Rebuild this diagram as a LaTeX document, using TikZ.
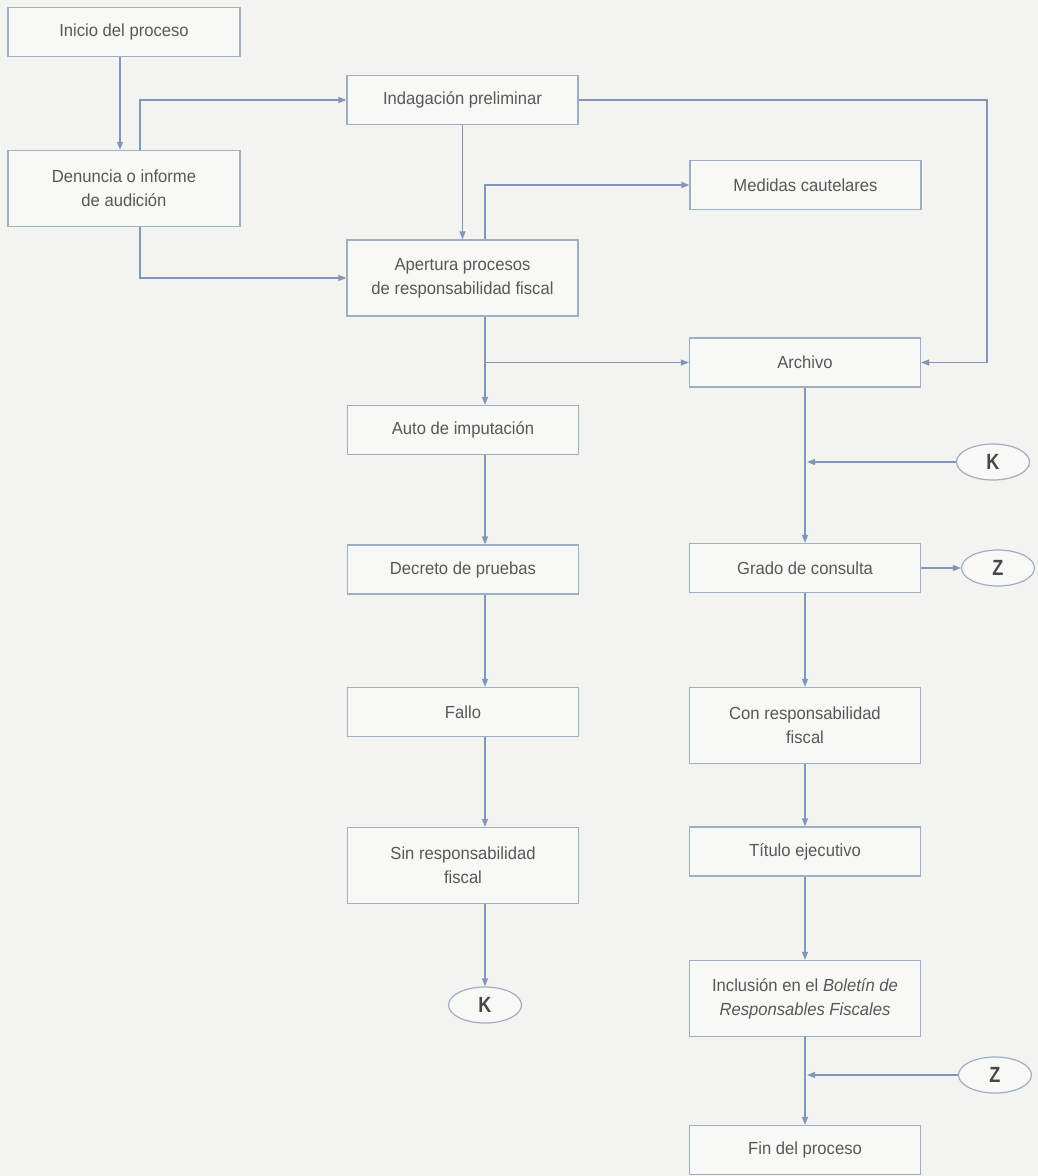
\documentclass[tikz,border=0pt]{standalone}
\usepackage{fontspec}
\setmainfont[FakeStretch=0.95]{Liberation Sans}
\newfontfamily\kzfont[FakeStretch=0.82]{Liberation Sans}
\usetikzlibrary{arrows.meta,shapes.geometric}
\definecolor{bg}{RGB}{243,244,239}
\definecolor{boxfill}{RGB}{248,249,246}
\definecolor{edge}{RGB}{160,174,196}
\definecolor{arr}{RGB}{128,150,187}
\definecolor{txt}{RGB}{88,88,88}
\definecolor{kz}{RGB}{70,70,70}
\tikzset{
  stepbox/.style={draw=edge, fill=boxfill, line width=1.2pt, minimum width=231pt,
    inner sep=0pt, align=center, text=txt, font=\fontsize{17.5}{24}\selectfont},
  onebox/.style={stepbox, minimum height=49pt},
  twobox/.style={stepbox, minimum height=76pt},
  conn/.style={ellipse, draw=edge, fill=boxfill, line width=1.2pt, minimum width=73pt,
    minimum height=36pt, inner sep=0pt, text=kz, font=\kzfont\bfseries\fontsize{22}{22}\selectfont},
  flow/.style={draw=arr, line width=1.2pt, -{Triangle[length=8pt,width=6pt]}},
}
\begin{document}
\begin{tikzpicture}[x=1pt,y=-1pt]
\fill[bg] (0,0) rectangle (1038,1176);
\useasboundingbox (0,0) rectangle (1038,1176);
\coordinate (cA) at (120,0);
\coordinate (cB) at (140,0);
\coordinate (cL) at (485,0);
\coordinate (cE) at (987,0);
% left-most column
\node[onebox, minimum width=232pt] (inicio) at (124,32) {Inicio del proceso};
\node[twobox, minimum width=232pt] (denuncia) at (124,188.5) {Denuncia o informe\\de audición};
% middle column
\node[onebox] (indag) at (462.5,100) {Indagación preliminar};
\node[twobox] (apertura) at (462.5,278) {Apertura procesos\\de responsabilidad fiscal};
\node[onebox] (auto) at (463,430) {Auto de imputación};
\node[onebox] (decreto) at (463,569.5) {Decreto de pruebas};
\node[onebox] (fallo) at (463,712) {Fallo};
\node[twobox] (sin) at (463,865.5) {Sin responsabilidad\\fiscal};
\node[conn] (Kl) at (485,1005) {K};
% right column
\node[onebox] (medidas) at (805.5,185) {Medidas cautelares};
\node[onebox] (archivo) at (805,362.5) {Archivo};
\node[onebox] (grado) at (805,568) {Grado de consulta};
\node[twobox] (con) at (805,725.5) {Con responsabilidad\\fiscal};
\node[onebox] (titulo) at (805,851.5) {Título ejecutivo};
\node[twobox] (inclusion) at (805,998.5) {Inclusión en el \textit{Boletín de}\\\textit{Responsables Fiscales}};
\node[onebox] (fin) at (805,1150) {Fin del proceso};
\node[conn] (Ku) at (993,462) {K};
\node[conn] (Zu) at (998,568) {Z};
\node[conn] (Zl) at (995,1075) {Z};
% connectors
\draw[flow] (inicio.south -| cA) -- (denuncia.north -| cA);
\draw[flow] (denuncia.north -| cB) |- (indag.west);
\draw[flow] (denuncia.south -| cB) |- (apertura.west);
\draw[flow] (indag.south) -- (apertura.north);
\draw[flow] (indag.east) -| (cE |- archivo.east) -- (archivo.east);
\draw[flow] (apertura.north -| cL) |- (medidas.west);
\draw[flow] (apertura.south -| cL) -- (auto.north -| cL);
\draw[flow] (apertura.south -| cL) |- (archivo.west);
\draw[flow] (auto.south -| cL) -- (decreto.north -| cL);
\draw[flow] (decreto.south -| cL) -- (fallo.north -| cL);
\draw[flow] (fallo.south -| cL) -- (sin.north -| cL);
\draw[flow] (sin.south -| cL) -- (Kl.north);
\draw[flow] (archivo.south) -- (grado.north);
\draw[flow] (Ku.west) -- ([xshift=2pt]Ku.west -| archivo.south);
\draw[flow] (grado.east) -- (Zu.west);
\draw[flow] (grado.south) -- (con.north);
\draw[flow] (con.south) -- (titulo.north);
\draw[flow] (titulo.south) -- (inclusion.north);
\draw[flow] (inclusion.south) -- (fin.north);
\draw[flow] (Zl.west) -- ([xshift=2pt]Zl.west -| inclusion.south);
\end{tikzpicture}
\end{document}
